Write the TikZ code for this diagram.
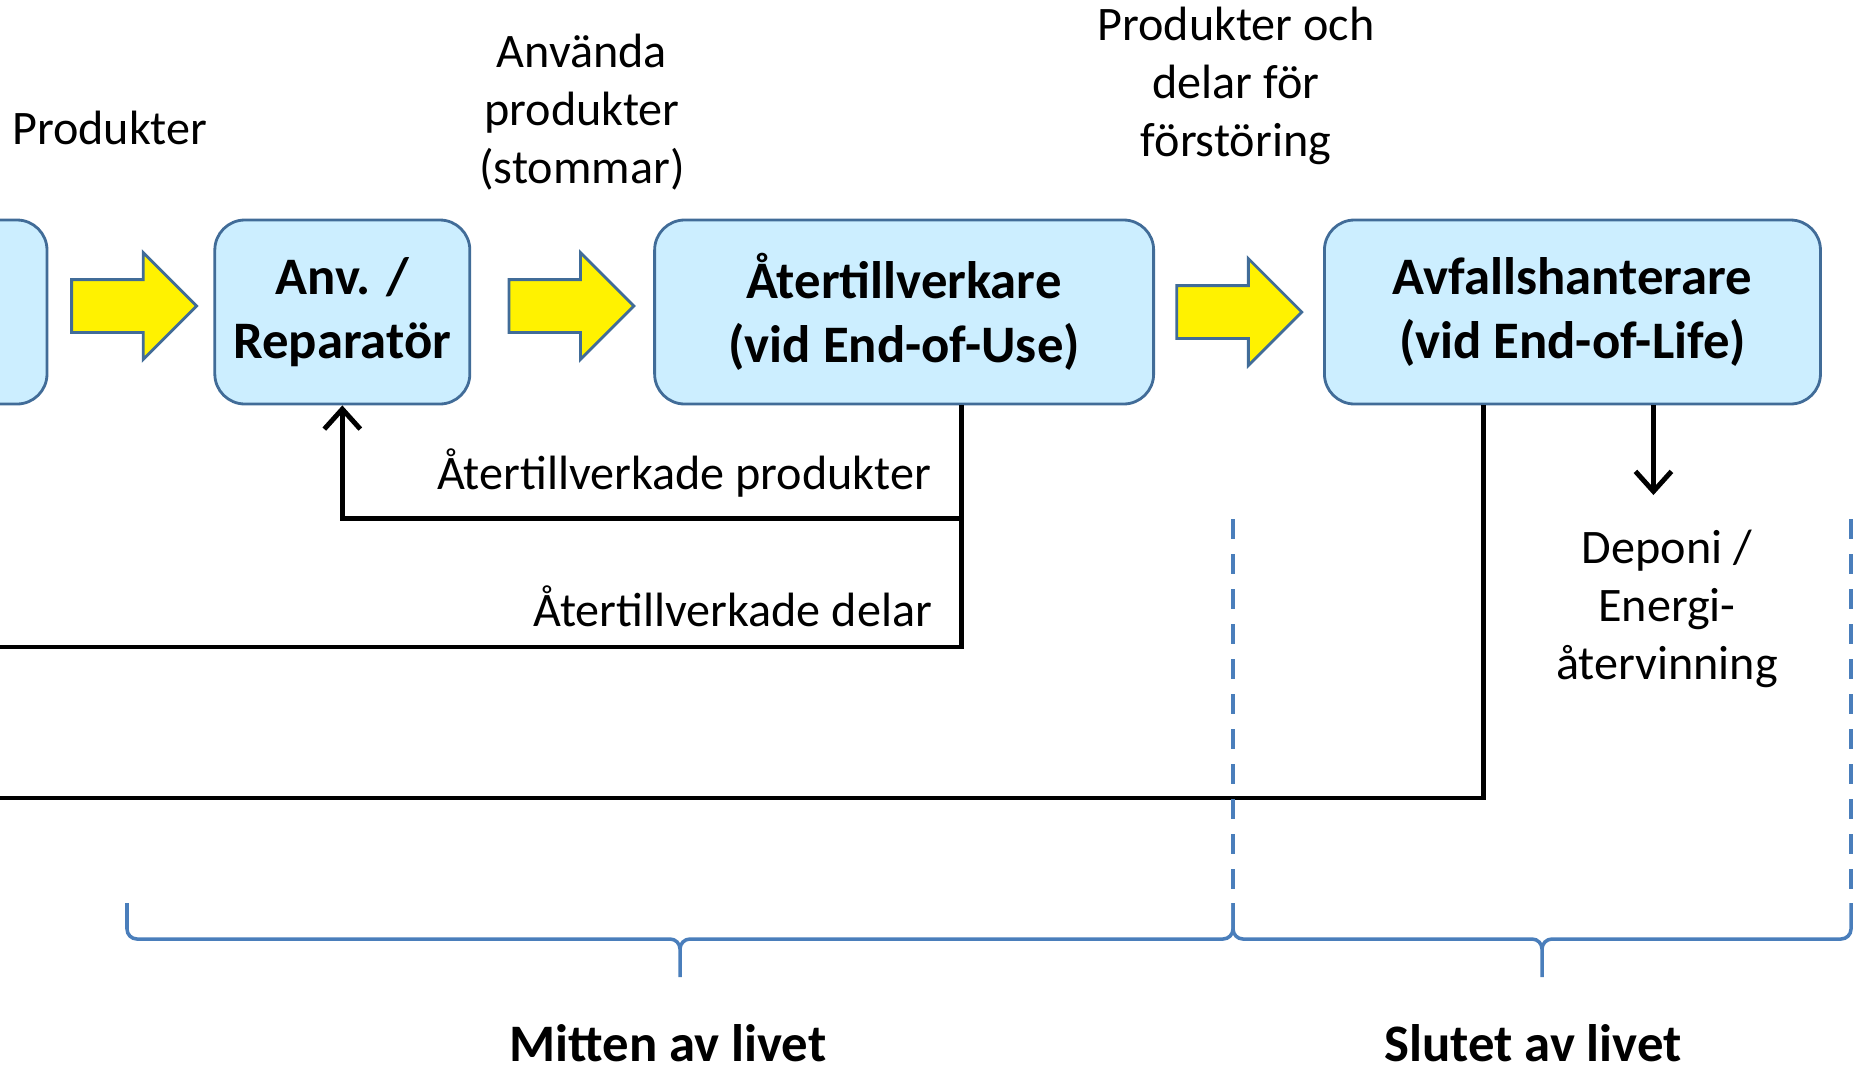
\documentclass[tikz,border=0pt]{standalone}
\usepackage{fontspec}
\setmainfont{Carlito}
\usetikzlibrary{arrows.meta,shapes.arrows,positioning,calc}

\definecolor{boxfill}{RGB}{204,238,255}
\definecolor{boxline}{RGB}{65,108,152}
\definecolor{bracecol}{RGB}{74,126,187}

\begin{document}
\begin{tikzpicture}[->,>={Straight Barb[length=2mm,width=3.6mm]},line width=1.4pt,
node distance=1.7cm]
\tikzstyle{actor}=[draw=boxline,line width=0.8pt,fill=boxfill,rounded corners=0.3cm,
minimum height=1.84cm,align=center,font=\fontsize{15}{18.3}\selectfont\bfseries]
\tikzstyle{flow}=[draw=boxline,line width=0.8pt,fill=yellow,single arrow,
single arrow head extend=0.27cm,minimum height=1.25cm,inner xsep=0pt,inner ysep=0.25cm]
\tikzstyle{lbl}=[align=center,font=\fontsize{13.7}{16.4}\selectfont]
\tikzstyle{phase}=[-,draw=bracecol,line width=1pt]

\useasboundingbox (0,0) rectangle (18.63,-10.65);

\node[actor,minimum width=2.5cm]  (A) at (-0.78,-3.12) {};
\node[actor,minimum width=2.55cm] (B) [right=1.65cm of A] {Anv. /\\Reparatör};
\node[actor,minimum width=4.99cm] (C) [right=1.82cm of B] {Återtillverkare\\(vid End-of-Use)};
\node[actor,minimum width=4.96cm] (D) [right=1.68cm of C] {Avfallshanterare\\(vid End-of-Life)};

\node[flow,xshift=-1mm,yshift=0.6mm]   (AB) at ($(A.east)!0.5!(B.west)$) {};
\node[flow,xshift=-0.4mm,yshift=0.6mm] (BC) at ($(B.east)!0.5!(C.west)$) {};
\node[flow,xshift=-1.3mm]              (CD) at ($(C.east)!0.5!(D.west)$) {};

\node[lbl,anchor=west]  (l1) at (-0.02,-1.28) {Produkter};
\node[lbl]              (l2) at (5.82,-1.12)  {Använda\\produkter\\(stommar)};
\node[lbl]              (l3) at (12.36,-0.86) {Produkter och\\delar för\\förstöring};
\node[lbl,anchor=east]  (l4) at (9.45,-4.73)  {Återtillverkade produkter};
\node[lbl,anchor=east]  (l5) at (9.46,-6.06)  {Återtillverkade delar};
\node[lbl,inner sep=0.33cm] (dep) at (16.67,-6.09) {Deponi /\\Energi-\\återvinning};
\node[lbl,font=\fontsize{15}{18}\selectfont\bfseries] (m1) at (6.68,-10.43) {Mitten av livet};
\node[lbl,font=\fontsize{15}{18}\selectfont\bfseries] (m2) at (15.33,-10.43) {Slutet av livet};

\coordinate (c1) at ([xshift=5.75mm]C.south);
\coordinate (d1) at ([xshift=-8.9mm]D.south);
\coordinate (d2) at ([xshift=8.1mm]D.south);
\coordinate (e1) at (-0.3,-6.47);
\coordinate (e2) at (-0.3,-7.98);

\draw (c1) -- ++(0,-1.13) -| (B.south);
\draw[-] (c1) |- (e1);
\draw[-] (d1) |- (e2);
\draw (d2) -- (d2 |- dep.north);

\draw[phase,dashed,dash pattern=on 0.2cm off 0.15cm] (12.33,-5.19) -- (12.33,-9.03);
\draw[phase,dashed,dash pattern=on 0.2cm off 0.15cm] (18.51,-5.19) -- (18.51,-9.03);

\foreach \a/\b [evaluate={\m=(\a+\b)/2; \ml=\m-0.1; \mr=\m+0.1;}] in {1.27/12.33,12.33/18.51}
  \draw[phase] (\a,-9.03) -- (\a,-9.29) to[out=-90,in=180] (\a+0.1,-9.39)
    -- (\ml,-9.39) to[out=0,in=90] (\m,-9.49) -- (\m,-9.77)
    (\m,-9.49) to[out=90,in=180] (\mr,-9.39)
    -- (\b-0.1,-9.39) to[out=0,in=-90] (\b,-9.29) -- (\b,-9.03);
\end{tikzpicture}
\end{document}
